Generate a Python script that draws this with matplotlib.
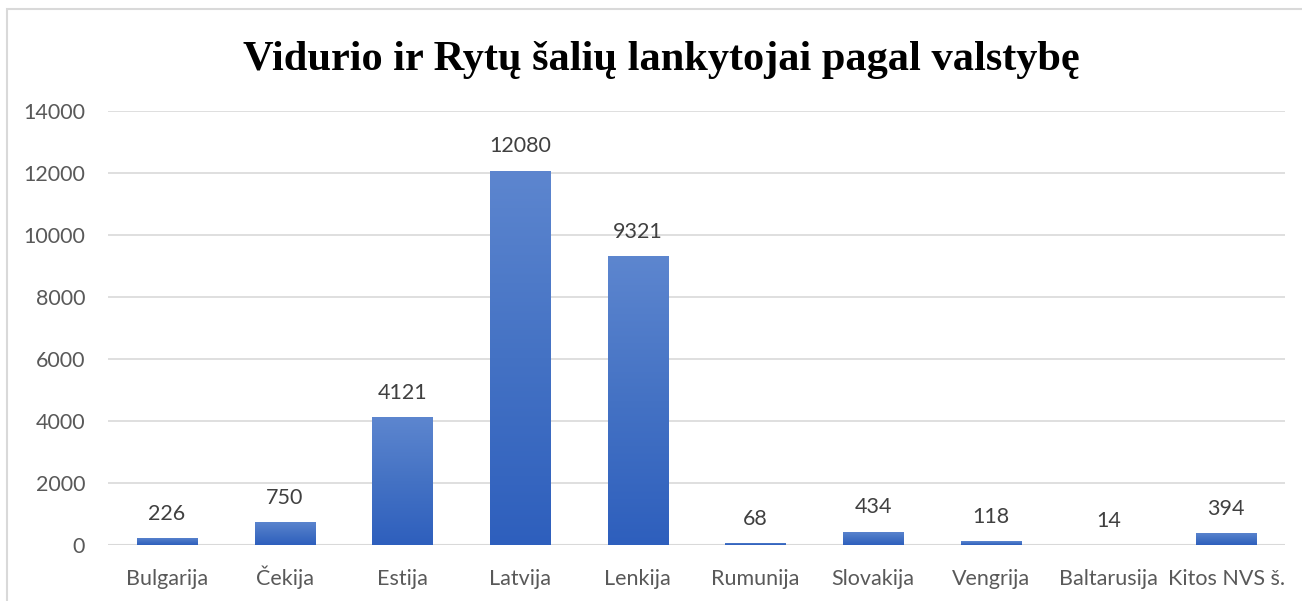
import matplotlib.pyplot as plt
import numpy as np
from matplotlib.patches import Rectangle
from matplotlib.colors import LinearSegmentedColormap

countries = ['Bulgarija', 'Čekija', 'Estija', 'Latvija', 'Lenkija',
             'Rumunija', 'Slovakija', 'Vengrija', 'Baltarusija', 'Kitos NVS š.']
visitors = [226, 750, 4121, 12080, 9321, 68, 434, 118, 14, 394]
y_ticks = [0, 2000, 4000, 6000, 8000, 10000, 12000, 14000]

title = 'Vidurio ir Rytų šalių lankytojai pagal valstybę'

fig = plt.figure(figsize=(13.02, 6.01), dpi=100)
ax = fig.add_axes([108 / 1302, 1 - 545 / 601, 1177 / 1302, 434 / 601])

# light gray chart frame (only top and left edges fall inside the picture)
fig.patches.append(Rectangle((7 / 1302, -0.1), 1.2, 1 - 9 / 601 + 0.1,
                             transform=fig.transFigure, fill=False,
                             edgecolor='#d9d9d9', linewidth=1.5))

x = np.arange(len(countries))
bars = ax.bar(x, visitors, width=0.51, color='none', zorder=3)

# vertical gradient, lighter at top
grad = LinearSegmentedColormap.from_list('g', ['#2e5fbd', '#4472c4', '#5d86cf'])
gimg = np.linspace(0, 1, 256).reshape(-1, 1)
for b in bars:
    x0, w, h = b.get_x(), b.get_width(), b.get_height()
    im = ax.imshow(gimg, cmap=grad, aspect='auto', origin='lower',
                   extent=[x0, x0 + w, 0, h], zorder=3)
    im.set_clip_path(b)

for xi, v in zip(x, visitors):
    ax.annotate(str(v), (xi, v), xytext=(0, 13), textcoords='offset points',
                ha='center', va='baseline', fontsize=15.5, color='#404040',
                family='Lato')

ax.set_xlim(-0.5, len(countries) - 0.5)
ax.set_ylim(0, 14000)
ax.set_yticks(y_ticks)
ax.set_yticklabels([str(t) for t in y_ticks])
ax.set_xticks(x)
ax.set_xticklabels(countries)
ax.tick_params(length=0, labelsize=15.5, labelcolor='#595959')
ax.tick_params(axis='y', pad=16.5)
ax.tick_params(axis='x', pad=29)
for lab in ax.get_xticklabels():
    lab.set_family('Lato')
    lab.set_va('baseline')
for lab in ax.get_yticklabels():
    lab.set_family('Lato')

ax.grid(axis='y', color='#d9d9d9', linewidth=1.2, zorder=0)
for s in ax.spines.values():
    s.set_visible(False)
ax.axhline(0, color='#d9d9d9', linewidth=1.5, zorder=2)

fig.text(0.508, 1 - 60 / 601, title, ha='center', va='center',
         fontsize=30.5, fontweight='bold', family='Liberation Serif')

fig.savefig('out.png', dpi=100)
